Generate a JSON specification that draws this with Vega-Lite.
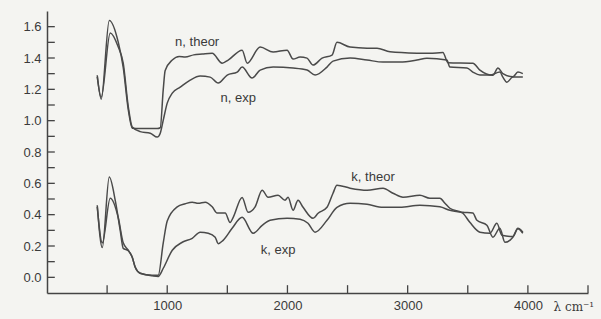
{
  "$schema": "https://vega.github.io/schema/vega-lite/v6.json",
  "autosize": "none",
  "width": 541,
  "height": 282,
  "padding": {"left": 47, "top": 11, "right": 13, "bottom": 26},
  "background": "#f4f4f1",
  "config": {
    "view": {"stroke": null},
    "axis": {"grid": false, "domainColor": "#444", "domainWidth": 1.5, "ticks": false, "labelColor": "#3a3a3a", "labelFont": "Liberation Sans", "labelFontSize": 13}
  },
  "datasets": {
    "curves": [
      {"series": "n theor", "x": 418, "y": 1.29}, {"series": "n theor", "x": 451, "y": 1.137}, {"series": "n theor", "x": 518, "y": 1.64}, {"series": "n theor", "x": 593, "y": 1.5}, {"series": "n theor", "x": 634, "y": 1.34}, {"series": "n theor", "x": 676, "y": 1.07}, {"series": "n theor", "x": 709, "y": 0.952}, {"series": "n theor", "x": 775, "y": 0.95}, {"series": "n theor", "x": 917, "y": 0.95}, {"series": "n theor", "x": 942, "y": 0.955}, {"series": "n theor", "x": 967, "y": 1.2}, {"series": "n theor", "x": 983, "y": 1.32}, {"series": "n theor", "x": 1042, "y": 1.387}, {"series": "n theor", "x": 1100, "y": 1.41}, {"series": "n theor", "x": 1150, "y": 1.406}, {"series": "n theor", "x": 1220, "y": 1.42}, {"series": "n theor", "x": 1291, "y": 1.425}, {"series": "n theor", "x": 1374, "y": 1.43}, {"series": "n theor", "x": 1457, "y": 1.367}, {"series": "n theor", "x": 1507, "y": 1.387}, {"series": "n theor", "x": 1623, "y": 1.45}, {"series": "n theor", "x": 1665, "y": 1.367}, {"series": "n theor", "x": 1773, "y": 1.47}, {"series": "n theor", "x": 1881, "y": 1.438}, {"series": "n theor", "x": 1997, "y": 1.45}, {"series": "n theor", "x": 2047, "y": 1.393}, {"series": "n theor", "x": 2105, "y": 1.406}, {"series": "n theor", "x": 2163, "y": 1.399}, {"series": "n theor", "x": 2213, "y": 1.355}, {"series": "n theor", "x": 2288, "y": 1.399}, {"series": "n theor", "x": 2371, "y": 1.419}, {"series": "n theor", "x": 2412, "y": 1.5}, {"series": "n theor", "x": 2521, "y": 1.47}, {"series": "n theor", "x": 2662, "y": 1.463}, {"series": "n theor", "x": 2745, "y": 1.463}, {"series": "n theor", "x": 2853, "y": 1.44}, {"series": "n theor", "x": 3077, "y": 1.431}, {"series": "n theor", "x": 3185, "y": 1.43}, {"series": "n theor", "x": 3293, "y": 1.435}, {"series": "n theor", "x": 3335, "y": 1.37}, {"series": "n theor", "x": 3542, "y": 1.367}, {"series": "n theor", "x": 3601, "y": 1.323}, {"series": "n theor", "x": 3709, "y": 1.29}, {"series": "n theor", "x": 3751, "y": 1.336}, {"series": "n theor", "x": 3792, "y": 1.3}, {"series": "n theor", "x": 3875, "y": 1.28}, {"series": "n theor", "x": 3917, "y": 1.31}, {"series": "n theor", "x": 3958, "y": 1.3},
      {"series": "n exp", "x": 418, "y": 1.28}, {"series": "n exp", "x": 451, "y": 1.15}, {"series": "n exp", "x": 526, "y": 1.56}, {"series": "n exp", "x": 593, "y": 1.47}, {"series": "n exp", "x": 634, "y": 1.367}, {"series": "n exp", "x": 676, "y": 1.09}, {"series": "n exp", "x": 709, "y": 0.96}, {"series": "n exp", "x": 775, "y": 0.93}, {"series": "n exp", "x": 859, "y": 0.92}, {"series": "n exp", "x": 917, "y": 0.895}, {"series": "n exp", "x": 942, "y": 0.92}, {"series": "n exp", "x": 967, "y": 1.003}, {"series": "n exp", "x": 1000, "y": 1.112}, {"series": "n exp", "x": 1042, "y": 1.176}, {"series": "n exp", "x": 1108, "y": 1.214}, {"series": "n exp", "x": 1191, "y": 1.259}, {"series": "n exp", "x": 1274, "y": 1.285}, {"series": "n exp", "x": 1357, "y": 1.278}, {"series": "n exp", "x": 1424, "y": 1.24}, {"series": "n exp", "x": 1499, "y": 1.291}, {"series": "n exp", "x": 1582, "y": 1.31}, {"series": "n exp", "x": 1623, "y": 1.342}, {"series": "n exp", "x": 1706, "y": 1.272}, {"series": "n exp", "x": 1773, "y": 1.323}, {"series": "n exp", "x": 1881, "y": 1.342}, {"series": "n exp", "x": 2047, "y": 1.336}, {"series": "n exp", "x": 2163, "y": 1.323}, {"series": "n exp", "x": 2230, "y": 1.291}, {"series": "n exp", "x": 2329, "y": 1.342}, {"series": "n exp", "x": 2379, "y": 1.38}, {"series": "n exp", "x": 2521, "y": 1.4}, {"series": "n exp", "x": 2662, "y": 1.387}, {"series": "n exp", "x": 2795, "y": 1.374}, {"series": "n exp", "x": 2936, "y": 1.374}, {"series": "n exp", "x": 3077, "y": 1.387}, {"series": "n exp", "x": 3160, "y": 1.399}, {"series": "n exp", "x": 3326, "y": 1.387}, {"series": "n exp", "x": 3351, "y": 1.342}, {"series": "n exp", "x": 3493, "y": 1.336}, {"series": "n exp", "x": 3542, "y": 1.31}, {"series": "n exp", "x": 3601, "y": 1.291}, {"series": "n exp", "x": 3684, "y": 1.291}, {"series": "n exp", "x": 3767, "y": 1.31}, {"series": "n exp", "x": 3792, "y": 1.278}, {"series": "n exp", "x": 3825, "y": 1.246}, {"series": "n exp", "x": 3875, "y": 1.278}, {"series": "n exp", "x": 3958, "y": 1.278},
      {"series": "k theor", "x": 418, "y": 0.46}, {"series": "k theor", "x": 460, "y": 0.19}, {"series": "k theor", "x": 518, "y": 0.64}, {"series": "k theor", "x": 568, "y": 0.49}, {"series": "k theor", "x": 609, "y": 0.3}, {"series": "k theor", "x": 634, "y": 0.185}, {"series": "k theor", "x": 676, "y": 0.17}, {"series": "k theor", "x": 709, "y": 0.128}, {"series": "k theor", "x": 734, "y": 0.064}, {"series": "k theor", "x": 775, "y": 0.026}, {"series": "k theor", "x": 875, "y": 0.013}, {"series": "k theor", "x": 925, "y": 0.013}, {"series": "k theor", "x": 967, "y": 0.22}, {"series": "k theor", "x": 1000, "y": 0.36}, {"series": "k theor", "x": 1083, "y": 0.45}, {"series": "k theor", "x": 1150, "y": 0.47}, {"series": "k theor", "x": 1208, "y": 0.48}, {"series": "k theor", "x": 1258, "y": 0.473}, {"series": "k theor", "x": 1316, "y": 0.48}, {"series": "k theor", "x": 1374, "y": 0.45}, {"series": "k theor", "x": 1415, "y": 0.41}, {"series": "k theor", "x": 1482, "y": 0.41}, {"series": "k theor", "x": 1523, "y": 0.35}, {"series": "k theor", "x": 1549, "y": 0.383}, {"series": "k theor", "x": 1623, "y": 0.51}, {"series": "k theor", "x": 1673, "y": 0.415}, {"series": "k theor", "x": 1731, "y": 0.45}, {"series": "k theor", "x": 1790, "y": 0.556}, {"series": "k theor", "x": 1839, "y": 0.511}, {"series": "k theor", "x": 1922, "y": 0.524}, {"series": "k theor", "x": 1980, "y": 0.492}, {"series": "k theor", "x": 2005, "y": 0.511}, {"series": "k theor", "x": 2047, "y": 0.428}, {"series": "k theor", "x": 2088, "y": 0.492}, {"series": "k theor", "x": 2130, "y": 0.447}, {"series": "k theor", "x": 2213, "y": 0.377}, {"series": "k theor", "x": 2255, "y": 0.409}, {"series": "k theor", "x": 2329, "y": 0.447}, {"series": "k theor", "x": 2379, "y": 0.537}, {"series": "k theor", "x": 2412, "y": 0.588}, {"series": "k theor", "x": 2521, "y": 0.569}, {"series": "k theor", "x": 2662, "y": 0.556}, {"series": "k theor", "x": 2795, "y": 0.569}, {"series": "k theor", "x": 2878, "y": 0.537}, {"series": "k theor", "x": 2961, "y": 0.511}, {"series": "k theor", "x": 3102, "y": 0.524}, {"series": "k theor", "x": 3185, "y": 0.505}, {"series": "k theor", "x": 3268, "y": 0.505}, {"series": "k theor", "x": 3310, "y": 0.473}, {"series": "k theor", "x": 3351, "y": 0.441}, {"series": "k theor", "x": 3459, "y": 0.409}, {"series": "k theor", "x": 3517, "y": 0.351}, {"series": "k theor", "x": 3601, "y": 0.288}, {"series": "k theor", "x": 3684, "y": 0.281}, {"series": "k theor", "x": 3742, "y": 0.345}, {"series": "k theor", "x": 3784, "y": 0.268}, {"series": "k theor", "x": 3875, "y": 0.26}, {"series": "k theor", "x": 3917, "y": 0.31}, {"series": "k theor", "x": 3958, "y": 0.281},
      {"series": "k exp", "x": 418, "y": 0.45}, {"series": "k exp", "x": 460, "y": 0.22}, {"series": "k exp", "x": 526, "y": 0.505}, {"series": "k exp", "x": 593, "y": 0.38}, {"series": "k exp", "x": 634, "y": 0.22}, {"series": "k exp", "x": 676, "y": 0.173}, {"series": "k exp", "x": 709, "y": 0.128}, {"series": "k exp", "x": 734, "y": 0.064}, {"series": "k exp", "x": 775, "y": 0.026}, {"series": "k exp", "x": 875, "y": 0.01}, {"series": "k exp", "x": 925, "y": 0.006}, {"series": "k exp", "x": 967, "y": 0.058}, {"series": "k exp", "x": 1042, "y": 0.173}, {"series": "k exp", "x": 1125, "y": 0.224}, {"series": "k exp", "x": 1208, "y": 0.249}, {"series": "k exp", "x": 1274, "y": 0.288}, {"series": "k exp", "x": 1341, "y": 0.281}, {"series": "k exp", "x": 1399, "y": 0.256}, {"series": "k exp", "x": 1424, "y": 0.215}, {"series": "k exp", "x": 1465, "y": 0.236}, {"series": "k exp", "x": 1540, "y": 0.313}, {"series": "k exp", "x": 1623, "y": 0.383}, {"series": "k exp", "x": 1715, "y": 0.281}, {"series": "k exp", "x": 1790, "y": 0.332}, {"series": "k exp", "x": 1856, "y": 0.364}, {"series": "k exp", "x": 1997, "y": 0.377}, {"series": "k exp", "x": 2105, "y": 0.371}, {"series": "k exp", "x": 2171, "y": 0.345}, {"series": "k exp", "x": 2230, "y": 0.288}, {"series": "k exp", "x": 2329, "y": 0.364}, {"series": "k exp", "x": 2412, "y": 0.447}, {"series": "k exp", "x": 2521, "y": 0.473}, {"series": "k exp", "x": 2662, "y": 0.466}, {"series": "k exp", "x": 2795, "y": 0.447}, {"series": "k exp", "x": 2936, "y": 0.447}, {"series": "k exp", "x": 3102, "y": 0.46}, {"series": "k exp", "x": 3268, "y": 0.45}, {"series": "k exp", "x": 3351, "y": 0.428}, {"series": "k exp", "x": 3459, "y": 0.415}, {"series": "k exp", "x": 3542, "y": 0.41}, {"series": "k exp", "x": 3576, "y": 0.364}, {"series": "k exp", "x": 3659, "y": 0.332}, {"series": "k exp", "x": 3709, "y": 0.256}, {"series": "k exp", "x": 3767, "y": 0.313}, {"series": "k exp", "x": 3809, "y": 0.224}, {"series": "k exp", "x": 3875, "y": 0.256}, {"series": "k exp", "x": 3917, "y": 0.313}, {"series": "k exp", "x": 3958, "y": 0.288}
    ],
    "labels": [
      {"label": "n, theor", "x": 1249, "y": 1.5},
      {"label": "n, exp", "x": 1591, "y": 1.144},
      {"label": "k, theor", "x": 2712, "y": 0.639},
      {"label": "k, exp", "x": 1922, "y": 0.173}
    ],
    "xticks": [{"v": 500}, {"v": 1000}, {"v": 1500}, {"v": 2000}, {"v": 2500}, {"v": 3000}, {"v": 3500}, {"v": 4000}, {"v": 4500}],
    "yticks": [{"v": 0}, {"v": 0.1}, {"v": 0.2}, {"v": 0.3}, {"v": 0.4}, {"v": 0.5}, {"v": 0.6}, {"v": 0.7}, {"v": 0.8}, {"v": 0.9}, {"v": 1.0}, {"v": 1.1}, {"v": 1.2}, {"v": 1.3}, {"v": 1.4}, {"v": 1.5}, {"v": 1.6}]
  },
  "layer": [
    {
      "data": {"name": "curves"},
      "mark": {"type": "line", "color": "#4a4a4a", "strokeWidth": 1.5, "strokeJoin": "round", "interpolate": "monotone"},
      "encoding": {
        "x": {"field": "x", "type": "quantitative", "scale": {"domain": [0, 4500], "nice": false, "zero": false},
          "axis": {"values": [1000, 2000, 3000, 4000], "tickCount": 20, "format": "d", "labelPadding": 6, "labelFlush": false,
            "title": "λ cm⁻¹", "titleFont": "DejaVu Serif", "titleFontWeight": "normal", "titleFontSize": 12, "titleColor": "#3a3a3a", "titleAlign": "left", "titleBaseline": "middle", "titleAnchor": null, "titleX": 506, "titleY": 13}},
        "y": {"field": "y", "type": "quantitative", "scale": {"domain": [-0.1, 1.7], "nice": false, "zero": false},
          "axis": {"values": [0, 0.2, 0.4, 0.6, 0.8, 1.0, 1.2, 1.4, 1.6], "tickCount": 20, "format": ".1f", "labelOverlap": false, "labelPadding": 6, "title": null}},
        "detail": {"field": "series"}
      }
    },
    {
      "data": {"name": "xticks"},
      "mark": {"type": "rule", "color": "#444", "strokeWidth": 1.3},
      "encoding": {
        "x": {"field": "v", "type": "quantitative"},
        "y": {"datum": -0.1},
        "y2": {"datum": -0.05}
      }
    },
    {
      "data": {"name": "yticks"},
      "mark": {"type": "rule", "color": "#444", "strokeWidth": 1.3},
      "encoding": {
        "y": {"field": "v", "type": "quantitative"},
        "x": {"datum": 0},
        "x2": {"datum": 65}
      }
    },
    {
      "data": {"name": "labels"},
      "mark": {"type": "text", "font": "Liberation Sans", "fontSize": 13, "color": "#3a3a3a"},
      "encoding": {
        "x": {"field": "x", "type": "quantitative"},
        "y": {"field": "y", "type": "quantitative"},
        "text": {"field": "label"}
      }
    }
  ]
}
